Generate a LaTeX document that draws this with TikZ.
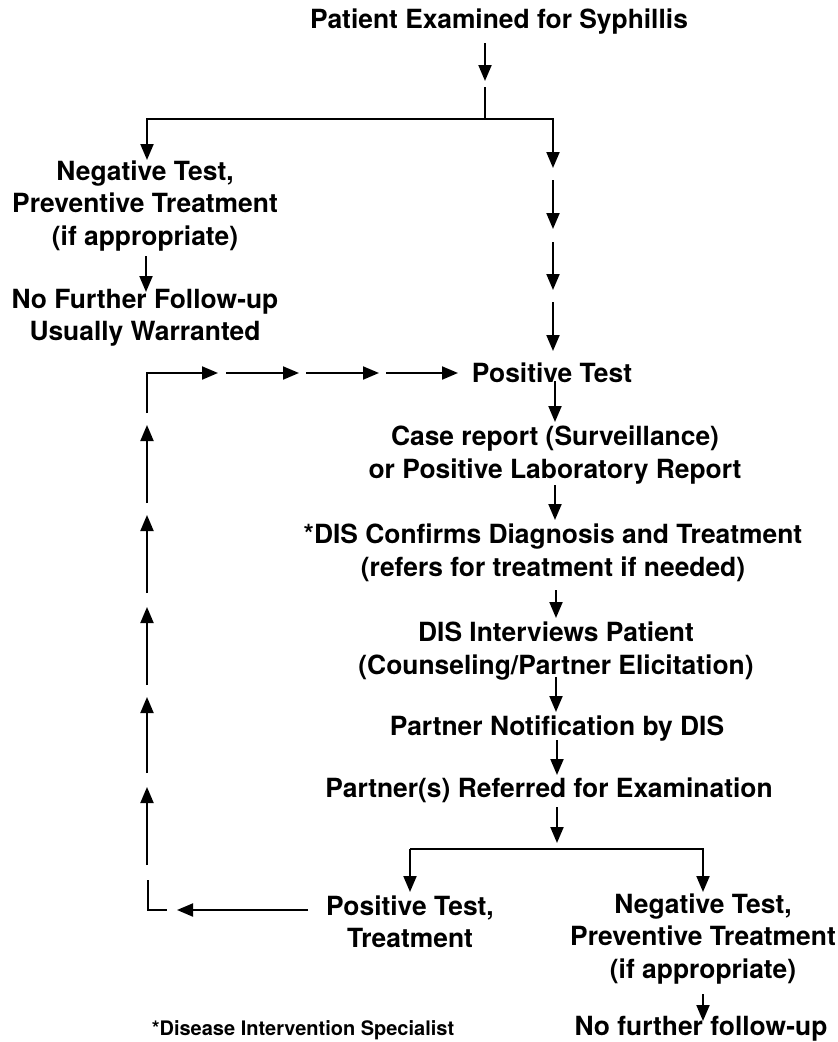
\documentclass[tikz,border=0pt]{standalone}
\usepackage{fontspec}
\setmainfont{TeX Gyre Heros}
\usetikzlibrary{arrows.meta}
\begin{document}
\begin{tikzpicture}[x=1pt,y=-1pt,
  txt/.style={font=\fontsize{26.4}{32.5}\selectfont\bfseries, align=center, inner sep=0pt},
  foot/.style={font=\fontsize{20}{24}\selectfont\bfseries, inner sep=0pt},
  conn/.style={line width=2pt},
  arr/.style={conn, -{Triangle[width=13pt,length=16pt]}}]
\useasboundingbox (0,0) rectangle (838,1042);
% nodes
\node[txt] (title) at (499,22) {Patient Examined for Syphillis};
\node[txt] (neg1) at (145,206) {Negative Test,\\Preventive Treatment\\(if appropriate)};
\node[txt] (nofu1) at (145,318) {No Further Follow-up\\Usually Warranted};
\node[txt] (pos) at (552,373) {Positive Test};
\node[txt] (case) at (555,455) {Case report (Surveillance)\\or Positive Laboratory Report};
\node[txt] (dis) at (553,553) {*DIS Confirms Diagnosis and Treatment\\(refers for treatment if needed)};
\node[txt] (interv) at (556,651) {DIS Interviews Patient\\(Counseling/Partner Elicitation)};
\node[txt] (notif) at (557,729) {Partner Notification by DIS};
\node[txt] (ref) at (549,790) {Partner(s) Referred for Examination};
\node[txt] (pos2) at (410,922) {Positive Test,\\Treatment};
\node[txt] (neg2) at (703,939) {Negative Test,\\Preventive Treatment\\(if appropriate)};
\node[txt] (nofu2) at (701,1029) {No further follow-up};
\node[foot] (fn) at (303,1030) {*Disease Intervention Specialist};
% coordinates
\coordinate (ta) at (485,43); \coordinate (tb) at (485,81);
\coordinate (tc) at (485,87); \coordinate (br) at (485,119);
\coordinate (bl) at (147,119); \coordinate (brr) at (553,119);
\coordinate (bla) at (147,160); \coordinate (bra) at (553,168);
\coordinate (r1a) at (553,180); \coordinate (r1b) at (553,229);
\coordinate (r2a) at (553,242); \coordinate (r2b) at (553,290);
\coordinate (r3a) at (553,302); \coordinate (r3b) at (553,351);
\coordinate (n1a) at (146,256); \coordinate (n1b) at (146,292);
\coordinate (p1a) at (555,381); \coordinate (p1b) at (555,422);
\coordinate (c1a) at (555,485); \coordinate (c1b) at (555,520);
\coordinate (d1a) at (556,590); \coordinate (d1b) at (556,618);
\coordinate (i1a) at (556,677); \coordinate (i1b) at (556,712);
\coordinate (o1a) at (557,740); \coordinate (o1b) at (557,775);
\coordinate (f1a) at (557,807); \coordinate (f1b) at (557,843);
\coordinate (hl) at (410,849); \coordinate (hr) at (703,849);
\coordinate (hla) at (410,892); \coordinate (hra) at (703,892);
\coordinate (g1a) at (703,994); \coordinate (g1b) at (703,1021);
\coordinate (la) at (308,910); \coordinate (lb) at (177,910);
\coordinate (lc) at (167,910); \coordinate (ld) at (148,910); \coordinate (le) at (148,880);
\coordinate (u1a) at (147,865); \coordinate (u1b) at (147,787);
\coordinate (u2a) at (147,773); \coordinate (u2b) at (147,697);
\coordinate (u3a) at (147,685); \coordinate (u3b) at (147,607);
\coordinate (u4a) at (147,593); \coordinate (u4b) at (147,515);
\coordinate (u5a) at (147,503); \coordinate (u5b) at (147,425);
\coordinate (ka) at (147,413); \coordinate (kc) at (147,373); \coordinate (kb) at (218,373);
\coordinate (h2a) at (226,373); \coordinate (h2b) at (299,373);
\coordinate (h3a) at (306,373); \coordinate (h3b) at (379,373);
\coordinate (h4a) at (386,373); \coordinate (h4b) at (458,373);
% connectors
\draw[arr] (ta) -- (tb);
\draw[conn] (tc) -- (br);
\draw[arr] (br) -- (bl) -- (bla);
\draw[arr] (br) -- (brr) -- (bra);
\draw[arr] (r1a) -- (r1b);
\draw[arr] (r2a) -- (r2b);
\draw[arr] (r3a) -- (r3b);
\draw[arr] (n1a) -- (n1b);
\draw[arr] (p1a) -- (p1b);
\draw[arr] (c1a) -- (c1b);
\draw[arr] (d1a) -- (d1b);
\draw[arr] (i1a) -- (i1b);
\draw[arr] (o1a) -- (o1b);
\draw[arr] (f1a) -- (f1b);
\draw[arr] (hl |- hr) -- (hr) -- (hra);
\draw[arr] (hr -| hl) -- (hl) -- (hla);
\draw[arr] (g1a) -- (g1b);
\draw[arr] (la) -- (lb);
\draw[conn] (le) -- (ld) -- (lc);
\draw[arr] (u1a) -- (u1b);
\draw[arr] (u2a) -- (u2b);
\draw[arr] (u3a) -- (u3b);
\draw[arr] (u4a) -- (u4b);
\draw[arr] (u5a) -- (u5b);
\draw[arr] (ka) -- (kc) -- (kb);
\draw[arr] (h2a) -- (h2b);
\draw[arr] (h3a) -- (h3b);
\draw[arr] (h4a) -- (h4b);
\end{tikzpicture}
\end{document}
